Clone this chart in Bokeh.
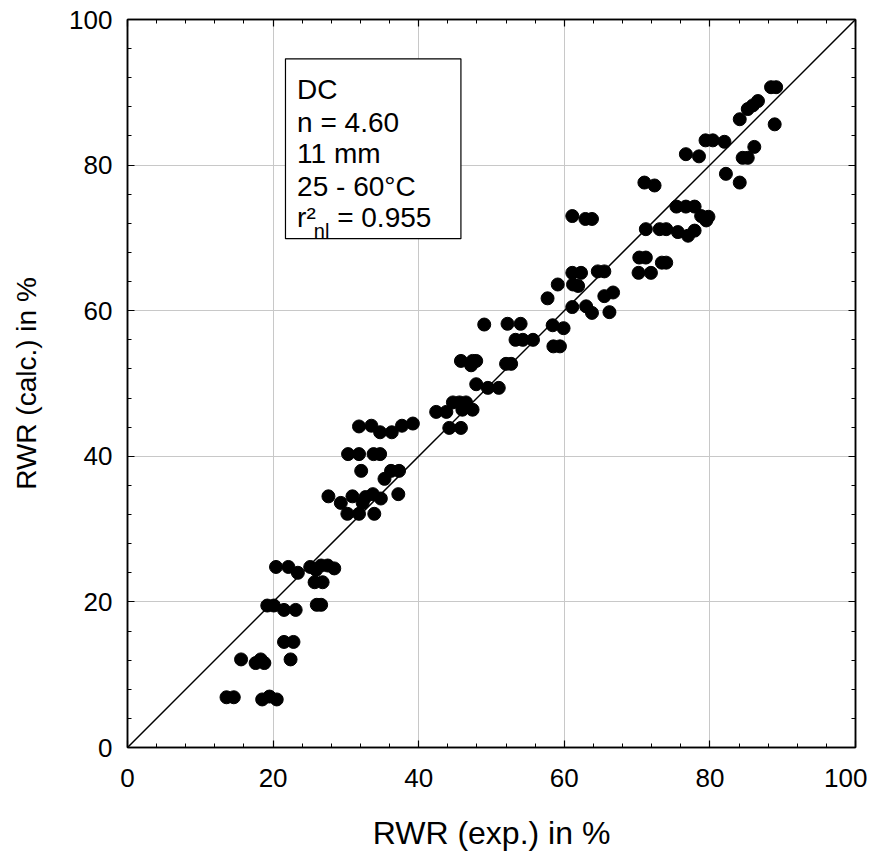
from bokeh.plotting import figure
from bokeh.models import LinearAxis, Range1d, SingleIntervalTicker, CustomLabelingPolicy
from bokeh.core.properties import value
from bokeh.embed import file_html
from bokeh.resources import INLINE

# ---- data ----
rwr_exp = [13.6, 14.6, 18.5, 19.5, 20.5, 15.6, 17.6, 18.3, 18.8, 22.4,
           21.5, 22.8, 19.2, 20.1, 21.5, 23.1, 20.4, 22.1, 23.4, 25.1,
           25.9, 26.6, 27.5, 28.4, 25.7, 26.8, 26.0, 26.6, 27.6, 29.3,
           30.2, 30.9, 31.8, 32.3, 32.7, 33.7, 34.8, 33.9, 37.2, 32.1,
           35.3, 36.2, 37.3, 30.3, 31.8, 33.8, 34.7, 31.8, 33.5, 34.7,
           36.3, 37.7, 39.2, 42.4, 43.8, 44.7, 45.6, 46.5, 46.0, 47.4,
           44.2, 45.8, 45.8, 47.4, 47.9, 47.2, 47.9, 49.5, 51.0, 49.0,
           52.0, 52.7, 52.2, 54.0, 53.3, 54.3, 55.7, 57.7, 59.1, 58.4,
           59.9, 58.5, 59.4, 61.1, 62.3, 61.2, 61.9, 61.1, 63.0, 63.8,
           66.2, 64.6, 65.5, 65.5, 66.7, 61.1, 62.9, 63.8, 70.3, 71.2,
           70.2, 71.9, 73.4, 74.0, 71.2, 73.1, 74.0, 75.4, 76.7, 77.9,
           75.6, 77.0, 77.9, 78.8, 79.5, 79.8, 71.0, 72.4, 76.7, 78.5,
           79.4, 80.4, 82.0, 82.2, 84.1, 84.5, 85.2, 86.1, 84.1, 85.2,
           85.9, 86.6, 88.9, 88.4, 89.1]
rwr_calc = [6.9, 6.9, 6.6, 7.0, 6.6, 12.1, 11.6, 12.1, 11.6, 12.1,
            14.5, 14.5, 19.5, 19.5, 18.9, 18.9, 24.8, 24.8, 24.0, 24.8,
            24.4, 25.0, 25.0, 24.6, 22.7, 22.7, 19.6, 19.6, 34.5, 33.6,
            32.1, 34.5, 32.1, 33.6, 34.4, 34.8, 34.2, 32.1, 34.8, 38.0,
            36.9, 38.0, 38.0, 40.3, 40.3, 40.3, 40.3, 44.1, 44.2, 43.3,
            43.3, 44.2, 44.5, 46.1, 46.1, 47.4, 47.4, 47.4, 46.4, 46.4,
            43.9, 43.9, 53.1, 53.1, 53.1, 52.5, 49.9, 49.4, 49.4, 58.1,
            52.7, 52.7, 58.2, 58.2, 56.0, 56.0, 56.0, 61.7, 63.6, 58.0,
            57.6, 55.1, 55.1, 65.2, 65.2, 63.6, 63.4, 60.5, 60.6, 59.7,
            59.8, 65.4, 65.4, 62.0, 62.5, 73.0, 72.6, 72.6, 67.3, 67.3,
            65.2, 65.2, 66.6, 66.6, 71.2, 71.2, 71.2, 74.3, 74.3, 74.3,
            70.8, 70.3, 71.0, 73.0, 72.4, 72.9, 77.6, 77.2, 81.5, 81.2,
            83.4, 83.4, 83.2, 78.8, 77.6, 81.0, 81.0, 82.5, 86.3, 87.7,
            88.2, 88.8, 85.6, 90.7, 90.7]

ref_x = [0, 100]
ref_y = [0, 100]

x_label = "RWR (exp.) in %"
y_label = "RWR (calc.) in %"
info_lines = ["DC", "n = 4.60", "11 mm", "25 - 60°C"]
r2_main = "r²"
r2_sub = "nl"
r2_value = "= 0.955"

FONT = "Liberation Sans"

p = figure(frame_width=728, frame_height=728,
           x_range=Range1d(0, 100), y_range=Range1d(0, 100),
           output_backend="svg", toolbar_location=None,
           x_axis_location=None, y_axis_location=None,
           min_border_left=127, min_border_right=12,
           min_border_top=19, min_border_bottom=89)
p.background_fill_color = "white"
p.border_fill_color = "white"
p.outline_line_color = "black"
p.outline_line_width = 1.5

HIDE_ALL = """
try {
  for (const i of indices) { indices.unset(i) }
} catch (e) {}
return indices
"""


def make_axis(show_labels):
    ax = LinearAxis(ticker=SingleIntervalTicker(interval=20, num_minor_ticks=5))
    ax.axis_line_color = "black"
    ax.axis_line_width = 1.5
    ax.major_tick_in = 7
    ax.major_tick_out = 0
    ax.minor_tick_in = 4
    ax.minor_tick_out = 0
    ax.major_tick_line_color = "black"
    ax.minor_tick_line_color = "black"
    ax.major_tick_line_width = 1.2
    ax.minor_tick_line_width = 1.0
    if show_labels:
        ax.major_label_text_font = FONT
        ax.major_label_text_font_size = "26px"
        ax.major_label_text_color = "black"
        ax.axis_label_text_font = FONT
        ax.axis_label_text_font_style = "normal"
        ax.axis_label_text_color = "black"
    else:
        ax.major_label_text_font_size = "0px"
        ax.major_label_standoff = 0
        ax.major_label_policy = CustomLabelingPolicy(code=HIDE_ALL)
    return ax


xb = make_axis(True)
xb.axis_label = x_label
xb.axis_label_text_font_size = "32px"
xb.major_label_standoff = 21
xb.axis_label_standoff = 25
p.add_layout(xb, "below")

yl = make_axis(True)
yl.axis_label = y_label
yl.axis_label_text_font_size = "28px"
yl.major_label_standoff = 15
yl.axis_label_standoff = 24
p.add_layout(yl, "left")

p.add_layout(make_axis(False), "above")
p.add_layout(make_axis(False), "right")

p.xgrid.ticker = SingleIntervalTicker(interval=20)
p.ygrid.ticker = SingleIntervalTicker(interval=20)
for g in (p.xgrid, p.ygrid):
    g.grid_line_color = "#c8c8c8"
    g.grid_line_width = 1

# 1:1 line
p.line(ref_x, ref_y, line_color="black", line_width=1.5)

# points
p.scatter(rwr_exp, rwr_calc, size=13, marker="circle",
          fill_color="black", line_color="black")

# info box
box_l, box_r, box_t, box_b = 21.7, 45.8, 94.6, 69.9
p.quad(left=[box_l], right=[box_r], top=[box_t], bottom=[box_b],
       fill_color="white", line_color="black", line_width=1.2)

tx = 23.3
line_y = [90.4, 85.9, 81.6, 77.1]
p.text(x=[tx] * 4, y=line_y, text=info_lines,
       text_font=value(FONT), text_font_size="28px",
       text_color="black", text_baseline="alphabetic", text_align="left")
p.text(x=[tx], y=[72.8], text=[r2_main], text_font=value(FONT),
       text_font_size="28px", text_color="black",
       text_baseline="alphabetic", text_align="left")
p.text(x=[25.6], y=[70.9], text=[r2_sub], text_font=value(FONT),
       text_font_size="20px", text_color="black",
       text_baseline="alphabetic", text_align="left")
p.text(x=[28.8], y=[72.8], text=[r2_value], text_font=value(FONT),
       text_font_size="28px", text_color="black",
       text_baseline="alphabetic", text_align="left")

open("out.html", "w").write(file_html(p, INLINE))
